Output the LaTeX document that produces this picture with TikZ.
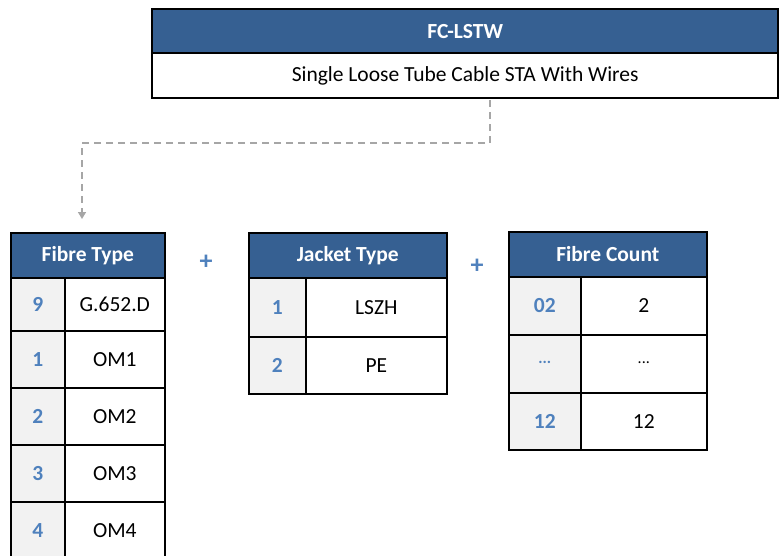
\documentclass[tikz,border=0pt]{standalone}
\usepackage{fontspec}
\setmainfont{Carlito}
\usetikzlibrary{arrows.meta}
\definecolor{hdrblue}{HTML}{366092}
\definecolor{keyblue}{HTML}{4F81BD}
\definecolor{keygray}{HTML}{F2F2F2}
\definecolor{dashgray}{HTML}{A6A6A6}
\tikzset{
  cell/.style={draw=black, line width=1.6pt, anchor=north west, inner sep=0pt, align=center},
  hdr/.style={cell, fill=hdrblue, text=white, font=\fontsize{21.5}{24}\selectfont\bfseries},
  keycell/.style={cell, fill=keygray, text=keyblue, font=\fontsize{21.5}{24}\selectfont\bfseries},
  valcell/.style={cell, fill=white, text=black, font=\fontsize{21.5}{24}\selectfont},
  plus/.style={text=keyblue, font=\fontsize{26}{28}\selectfont\bfseries},
  conn/.style={draw=dashgray, line width=1.6pt, dash pattern=on 7pt off 5pt, -{Triangle[length=7pt,width=8pt]}}
}
\begin{document}
\begin{tikzpicture}[x=1pt,y=-1pt]
\useasboundingbox (0,0) rectangle (780,555);
\begin{scope}
\clip (0,0) rectangle (780,555);
% top box
\node[hdr, line width=2.4pt, minimum width=626pt, minimum height=44pt] (tophead) at (151,8) {FC-LSTW};
\node[valcell, line width=2.4pt, minimum width=626pt, minimum height=45pt] (topbody) at (151,52) {Single Loose Tube Cable STA With Wires};
% Fibre Type
\node[hdr, minimum width=154pt, minimum height=45pt] (fth) at (10,232) {Fibre Type};
\node[keycell, minimum width=54pt, minimum height=53pt] (ftk1) at (10,277) {9};
\node[valcell, minimum width=100pt, minimum height=53pt] (ftv1) at (64,277) {G.652.D};
\node[keycell, minimum width=54pt, minimum height=57pt] (ftk2) at (10,330) {1};
\node[valcell, minimum width=100pt, minimum height=57pt] (ftv2) at (64,330) {OM1};
\node[keycell, minimum width=54pt, minimum height=57pt] (ftk3) at (10,387) {2};
\node[valcell, minimum width=100pt, minimum height=57pt] (ftv3) at (64,387) {OM2};
\node[keycell, minimum width=54pt, minimum height=57pt] (ftk4) at (10,444) {3};
\node[valcell, minimum width=100pt, minimum height=57pt] (ftv4) at (64,444) {OM3};
\node[keycell, minimum width=54pt, minimum height=57pt] (ftk5) at (10,501) {4};
\node[valcell, minimum width=100pt, minimum height=57pt] (ftv5) at (64,501) {OM4};
% Jacket Type
\node[hdr, minimum width=198pt, minimum height=45pt] (jth) at (248,232) {Jacket Type};
\node[keycell, minimum width=57pt, minimum height=59pt] (jtk1) at (248,277) {1};
\node[valcell, minimum width=141pt, minimum height=59pt] (jtv1) at (305,277) {LSZH};
\node[keycell, minimum width=57pt, minimum height=57pt] (jtk2) at (248,336) {2};
\node[valcell, minimum width=141pt, minimum height=57pt] (jtv2) at (305,336) {PE};
% Fibre Count
\node[hdr, minimum width=198pt, minimum height=45pt] (fch) at (508,231) {Fibre Count};
\node[keycell, minimum width=72pt, minimum height=58pt] (fck1) at (508,276) {02};
\node[valcell, minimum width=126pt, minimum height=58pt] (fcv1) at (580,276) {2};
\node[keycell, minimum width=72pt, minimum height=58pt] (fck2) at (508,334) {\raisebox{3pt}{\fontsize{16}{16}\selectfont\bfseries ...}};
\node[valcell, minimum width=126pt, minimum height=58pt] (fcv2) at (580,334) {\raisebox{3pt}{\fontsize{16}{16}\selectfont ...}};
\node[keycell, minimum width=72pt, minimum height=57pt] (fck3) at (508,392) {12};
\node[valcell, minimum width=126pt, minimum height=57pt] (fcv3) at (580,392) {12};
% plus signs
\node[plus] (p1) at (206,262) {+};
\node[plus] (p2) at (477,266) {+};
% connector
\coordinate (c0) at (490,100);
\coordinate (c1) at (82,219);
\draw[conn] (c0) -- (490,143) -| (c1);
\end{scope}
\end{tikzpicture}
\end{document}
